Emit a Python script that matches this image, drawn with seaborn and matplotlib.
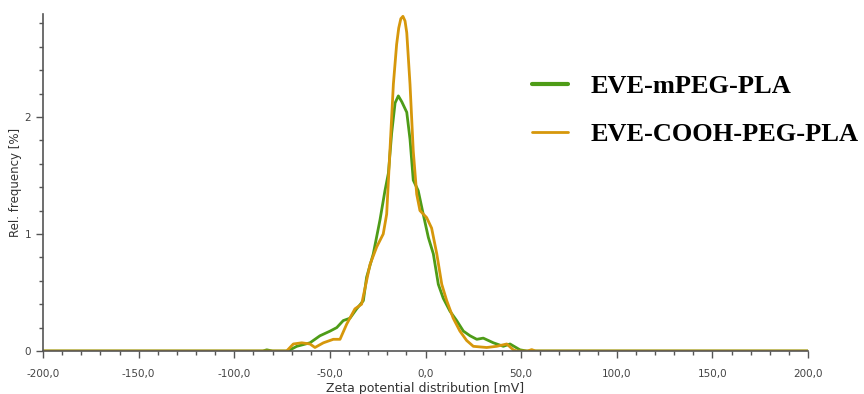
import numpy as np
import pandas as pd
import matplotlib
matplotlib.use("Agg")
import matplotlib.pyplot as plt
import seaborn as sns
from matplotlib.ticker import MultipleLocator, FuncFormatter
from matplotlib.lines import Line2D

green_x = [-200, -85, -83, -80, -72, -67.3, -60.4, -55.2, -49.9, -46.4, -43, -39.5, -36, -32.5, -30.8,
           -27.3, -23.8, -21.2, -19.4, -17.7, -15.9, -14.2, -12.4, -9.8, -8.1, -6.4, -3.8, -1.2,
           1.5, 4.1, 6.7, 9.3, 12.8, 16.3, 19.8, 23.3, 26.8, 30.2, 35.5, 40.7, 44.2, 49.4, 52.9, 200]
green_y = [0, 0, 0.01, 0, 0, 0.04, 0.07, 0.13, 0.17, 0.2, 0.26, 0.28, 0.36, 0.43, 0.63,
           0.83, 1.12, 1.37, 1.52, 1.86, 2.12, 2.18, 2.13, 2.04, 1.81, 1.46, 1.37, 1.17,
           0.97, 0.83, 0.57, 0.45, 0.34, 0.26, 0.17, 0.13, 0.10, 0.11, 0.07, 0.04, 0.06, 0.01, 0, 0]

orange_x = [-200, -72.6, -69.1, -64.7, -60.4, -57.8, -53.4, -48.2, -44.7, -41.2, -36.9, -33.4,
            -29, -25.5, -22.1, -20.3, -18.6, -16.8, -15.1, -14.0, -12.9, -11.8, -10.7, -9.8, -8.1,
            -6.4, -4.6, -2.9, 0.6, 3.2, 5.9, 8.5, 11.1, 14.5, 18, 21.5, 25, 32, 37.2, 42.5, 45.9,
            47.7, 53.5, 55.5, 57.5, 200]
orange_y = [0, 0, 0.06, 0.07, 0.06, 0.03, 0.07, 0.10, 0.10, 0.23, 0.36, 0.40,
            0.74, 0.89, 1.0, 1.17, 1.71, 2.28, 2.62, 2.76, 2.84, 2.86, 2.82, 2.72, 2.28,
            1.71, 1.34, 1.20, 1.14, 1.05, 0.83, 0.57, 0.43, 0.28, 0.17, 0.09, 0.04, 0.03, 0.04,
            0.06, 0.01, 0, 0, 0.012, 0, 0]

series_names = ["EVE-mPEG-PLA", "EVE-COOH-PEG-PLA"]
colors = {"EVE-mPEG-PLA": "#4e9c17", "EVE-COOH-PEG-PLA": "#d6970b"}

df = pd.concat([
    pd.DataFrame({"x": green_x, "y": green_y, "s": series_names[0]}),
    pd.DataFrame({"x": orange_x, "y": orange_y, "s": series_names[1]}),
])

sns.set_style("white")
fig = plt.figure(figsize=(8.64, 3.94), dpi=100)
ax = fig.add_axes([43/864, 43/394, 765/864, 337/394])

sns.lineplot(data=df, x="x", y="y", hue="s", palette=colors, ax=ax, legend=False,
             linewidth=2.0, sort=False, estimator=None)

ax.set_xlim(-200, 200)
ax.set_ylim(0, 2.88)
ax.xaxis.set_major_locator(MultipleLocator(50))
ax.xaxis.set_minor_locator(MultipleLocator(10))
ax.yaxis.set_major_locator(MultipleLocator(1))
ax.yaxis.set_minor_locator(MultipleLocator(0.2))
ax.xaxis.set_major_formatter(FuncFormatter(lambda v, p: f"{v:.1f}".replace(".", ",")))
ax.yaxis.set_major_formatter(FuncFormatter(lambda v, p: f"{int(round(v))}"))

for s in ["top", "right"]:
    ax.spines[s].set_visible(False)
for s in ["left", "bottom"]:
    ax.spines[s].set_color("#555555")
    ax.spines[s].set_linewidth(1.2)

ax.tick_params(axis="both", which="both", direction="out", colors="#555555",
               labelcolor="#444444", labelsize=7.5)
ax.tick_params(axis="both", which="major", length=5, width=1)
ax.tick_params(axis="both", which="minor", length=3, width=1)
ax.tick_params(axis="x", which="both", bottom=True, pad=8)
ax.tick_params(axis="y", which="both", left=True)

ax.set_xlabel("Zeta potential distribution [mV]", fontsize=9, color="#333333", labelpad=2)
ax.set_ylabel("Rel. frequency [%]", fontsize=8.5, color="#333333", labelpad=2)

handles = [Line2D([], [], color=colors[series_names[0]], lw=3),
           Line2D([], [], color=colors[series_names[1]], lw=2)]
leg = fig.legend(handles, series_names, loc="upper left", bbox_to_anchor=(532/864, 1 - 75/394),
                 frameon=False, handlelength=1.36, handletextpad=0.85, labelspacing=0.92,
                 borderpad=0, borderaxespad=0,
                 prop={"family": "Liberation Serif", "weight": "bold", "size": 19})
for t in leg.get_texts():
    t.set_color("black")

fig.savefig("out.png", dpi=100)
